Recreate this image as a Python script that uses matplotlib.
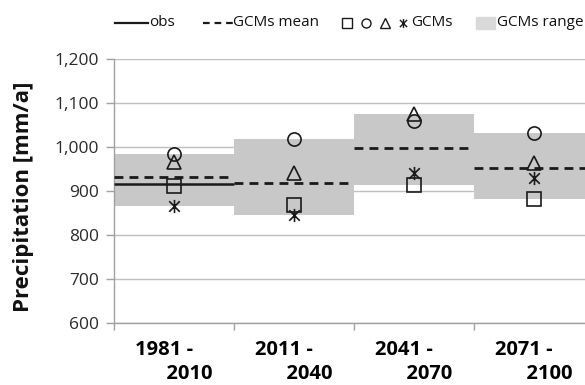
import matplotlib
matplotlib.use("Agg")
import matplotlib.pyplot as plt
from matplotlib.lines import Line2D
from matplotlib.patches import Rectangle
from matplotlib.path import Path
from matplotlib.ticker import FuncFormatter, FixedLocator
import numpy as np

plt.rcParams['font.family'] = ['Open Sans', 'DejaVu Sans']

# Periods and precipitation values [mm/a]
periods = ["1981 -\n      2010", "2011 -\n      2040", "2041 -\n      2070", "2071 -\n      2100"]
obs = [915]
gcm_square = [912, 869, 914, 882]
gcm_circle = [985, 1018, 1060, 1032]
gcm_triangle = [967, 940, 1075, 963]
gcm_star = [865, 846, 940, 930]
gcm_mean = [932, 918, 997, 952]
range_low = [865, 846, 914, 882]
range_high = [985, 1018, 1075, 1032]

GRAY = "#c8c8c8"
GRID = "#bfbfbf"
AXIS = "#a0a0a0"

# asterisk marker: vertical bar plus an X
star_path = Path(
    [(0, -1), (0, 1), (-0.8, -0.8), (0.8, 0.8), (-0.8, 0.8), (0.8, -0.8)],
    [Path.MOVETO, Path.LINETO, Path.MOVETO, Path.LINETO, Path.MOVETO, Path.LINETO],
)

W, H = 585, 385
fig = plt.figure(figsize=(W / 100, H / 100), dpi=100)
ax = fig.add_axes([114 / W, 62 / H, (594 - 114) / W, 264 / H])

x = np.arange(len(periods))

# GCM range boxes
ax.bar(x, np.array(range_high) - np.array(range_low), bottom=range_low,
       width=1.0, color=GRAY, edgecolor="none", zorder=1)

# GCM mean (dashed) per period and observed mean (solid) for the reference period
ax.hlines(gcm_mean, x - 0.5, x + 0.5, colors="#1a1a1a", linestyles=(0, (3.2, 2.2)),
          linewidth=2.0, zorder=3)
ax.hlines(obs, x[:len(obs)] - 0.5, x[:len(obs)] + 0.5, colors="#1a1a1a",
          linestyles="solid", linewidth=1.8, zorder=3)

mk = dict(linestyle="none", markerfacecolor="none", markeredgecolor="#1a1a1a",
          markeredgewidth=1.2, markersize=9.5, zorder=4)
ax.plot(x, gcm_square, marker="s", **mk)
ax.plot(x, gcm_circle, marker="o", **mk)
ax.plot(x, gcm_triangle, marker="^", **mk)
ax.plot(x, gcm_star, marker=star_path, **mk)

ax.set_xlim(-0.5, len(periods) - 0.5)
ax.set_ylim(600, 1200)
ax.yaxis.set_major_locator(FixedLocator(np.arange(600, 1201, 100)))
ax.yaxis.set_major_formatter(FuncFormatter(lambda v, p: f"{int(v):,}"))
ax.grid(axis="y", color=GRID, linewidth=1.0, zorder=0)
ax.set_axisbelow(True)

ax.set_xticks(np.arange(-0.5, len(periods), 1.0))
ax.set_xticklabels([])
ax.set_xticks(x, minor=True)
ax.set_xticklabels(periods, minor=True, fontsize=14.5, fontweight="bold",
                   multialignment="left", linespacing=1.3)
ax.tick_params(axis="x", which="minor", length=0, pad=12)
ax.tick_params(axis="x", which="major", length=5, color=AXIS, width=1)
ax.tick_params(axis="y", length=6, color=AXIS, width=1, labelsize=12.5,
               labelcolor="#2a2a2a", pad=5)
ax.tick_params(axis="x", labelcolor="#111111")

for s in ["top", "right"]:
    ax.spines[s].set_visible(False)
for s in ["left", "bottom"]:
    ax.spines[s].set_color(AXIS)
    ax.spines[s].set_linewidth(1.0)

fig.text(24 / W, 1 - 197 / H, "Precipitation [mm/a]", rotation=90, ha="center",
         va="center", fontsize=16, fontweight="bold", color="#111111")

# legend row above the plot
def fx(px):
    return px / W

ly = 1 - 23 / H
lt = dict(fontsize=11, va="center", ha="left", color="#111111")
fig.add_artist(Line2D([fx(115), fx(148)], [ly, ly], color="#1a1a1a", linewidth=1.6))
fig.text(fx(149), ly, "obs", **lt)
fig.add_artist(Line2D([fx(203), fx(233)], [ly, ly], color="#1a1a1a", linewidth=1.6,
                      linestyle=(0, (3.0, 2.2))))
fig.text(fx(233), ly, "GCMs mean", **lt)
lmk = dict(markerfacecolor="none", markeredgecolor="#1a1a1a", markeredgewidth=1.0,
           markersize=6.5, linestyle="none")
for xp, m in zip([347, 366, 385, 403], ["s", "o", "^", star_path]):
    fig.add_artist(Line2D([fx(xp)], [ly], marker=m, **lmk))
fig.text(fx(411), ly, "GCMs", **lt)
fig.add_artist(Rectangle((fx(476), ly - 6 / H), 19 / W, 12 / H, color="#d9d9d9",
                         transform=fig.transFigure))
fig.text(fx(497), ly, "GCMs range", **lt)

fig.savefig("out.png", dpi=100)
